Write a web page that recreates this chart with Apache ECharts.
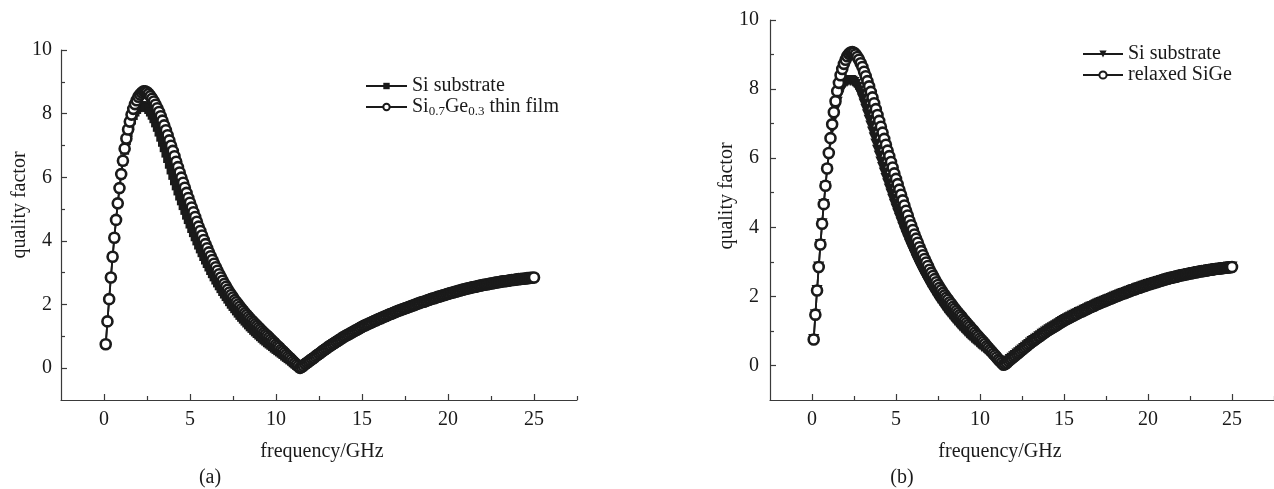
<!DOCTYPE html>
<html>
<head>
<meta charset="utf-8">
<script src="https://cdn.jsdelivr.net/npm/echarts@6/dist/echarts.min.js"></script>
<style>
  html, body { margin: 0; background: #fff; }
  #chart { width: 1274px; height: 489px; }
</style>
</head>
<body>
<div id="chart"></div>
<script>
// frequency grid, GHz (0.1 ... 25.0, step 0.1)
const freqStart = 0.1, freqStep = 0.1, freqCount = 250;

// quality factor, 0.1 .. 12.0 GHz (rows of 10 points)
const qSiSubstrateHead = [
  0.75,1.47,2.17,2.85,3.50,4.10,4.66,5.18,5.66,6.10,
  6.50,6.85,7.15,7.41,7.62,7.80,7.94,8.05,8.13,8.19,
  8.23,8.25,8.25,8.23,8.19,8.13,8.05,7.95,7.84,7.71,
  7.57,7.42,7.26,7.10,6.93,6.76,6.59,6.41,6.23,6.06,
  5.89,5.73,5.57,5.41,5.26,5.11,4.96,4.81,4.67,4.53,
  4.39,4.26,4.13,4.00,3.87,3.75,3.63,3.51,3.40,3.29,
  3.18,3.07,2.97,2.87,2.77,2.68,2.59,2.50,2.41,2.33,
  2.25,2.17,2.09,2.01,1.94,1.87,1.80,1.73,1.66,1.60,
  1.54,1.48,1.42,1.36,1.30,1.25,1.19,1.14,1.09,1.04,
  0.99,0.94,0.89,0.85,0.80,0.76,0.72,0.68,0.63,0.59,
  0.55,0.51,0.47,0.43,0.38,0.34,0.30,0.26,0.22,0.17,
  0.13,0.09,0.05,0.01,0.04,0.08,0.13,0.17,0.21,0.25
];
const qSiGeFilmHead = [
  0.75,1.47,2.17,2.85,3.50,4.10,4.66,5.18,5.66,6.10,
  6.52,6.90,7.22,7.50,7.75,7.97,8.15,8.30,8.42,8.53,
  8.60,8.66,8.70,8.70,8.67,8.62,8.55,8.47,8.38,8.28,
  8.17,8.05,7.92,7.78,7.63,7.48,7.32,7.16,6.99,6.83,
  6.66,6.49,6.32,6.15,5.99,5.83,5.67,5.51,5.35,5.20,
  5.05,4.90,4.75,4.60,4.45,4.31,4.17,4.03,3.90,3.77,
  3.64,3.52,3.40,3.28,3.17,3.06,2.95,2.85,2.75,2.65,
  2.56,2.47,2.38,2.30,2.22,2.14,2.07,2.00,1.93,1.86,
  1.80,1.73,1.67,1.61,1.55,1.49,1.44,1.38,1.33,1.27,
  1.22,1.16,1.11,1.06,1.01,0.96,0.90,0.85,0.80,0.74,
  0.69,0.64,0.58,0.53,0.48,0.42,0.37,0.32,0.27,0.21,
  0.16,0.11,0.06,0.01,0.04,0.08,0.13,0.17,0.21,0.25
];
const qRelaxedSiGeHead = [
  0.75,1.47,2.17,2.85,3.50,4.10,4.67,5.20,5.70,6.15,
  6.58,6.98,7.33,7.65,7.94,8.18,8.40,8.58,8.73,8.85,
  8.95,9.02,9.06,9.07,9.05,9.00,8.93,8.85,8.75,8.64,
  8.50,8.37,8.23,8.08,7.92,7.76,7.59,7.42,7.25,7.08,
  6.91,6.74,6.56,6.39,6.22,6.06,5.89,5.73,5.56,5.40,
  5.25,5.09,4.94,4.78,4.63,4.48,4.34,4.19,4.06,3.92,
  3.79,3.67,3.55,3.42,3.31,3.19,3.08,2.98,2.88,2.77,
  2.68,2.59,2.50,2.41,2.33,2.25,2.18,2.10,2.03,1.96,
  1.90,1.83,1.77,1.70,1.64,1.58,1.52,1.46,1.41,1.34,
  1.29,1.23,1.17,1.12,1.06,1.01,0.95,0.89,0.84,0.78,
  0.73,0.68,0.62,0.56,0.51,0.45,0.40,0.34,0.29,0.23,
  0.17,0.12,0.07,0.02,0.04,0.08,0.13,0.17,0.21,0.25
];
// 12.1 .. 25.0 GHz: all curves lie on top of each other here
const qTail = [
  0.29,0.33,0.37,0.41,0.45,0.49,0.53,0.57,0.61,0.65,
  0.69,0.72,0.76,0.79,0.83,0.86,0.90,0.93,0.97,1.00,
  1.03,1.06,1.09,1.12,1.15,1.18,1.21,1.24,1.27,1.30,
  1.33,1.35,1.38,1.40,1.43,1.45,1.48,1.50,1.53,1.55,
  1.57,1.60,1.62,1.64,1.67,1.69,1.71,1.73,1.76,1.78,
  1.80,1.82,1.84,1.86,1.88,1.90,1.92,1.94,1.96,1.98,
  2.00,2.02,2.04,2.06,2.08,2.09,2.11,2.13,2.15,2.17,
  2.19,2.20,2.22,2.24,2.25,2.27,2.29,2.30,2.32,2.34,
  2.35,2.37,2.38,2.40,2.41,2.43,2.44,2.46,2.47,2.49,
  2.50,2.51,2.53,2.54,2.55,2.56,2.57,2.59,2.60,2.61,
  2.62,2.63,2.64,2.65,2.66,2.67,2.68,2.69,2.70,2.71,
  2.72,2.73,2.73,2.74,2.75,2.76,2.77,2.77,2.78,2.79,
  2.80,2.80,2.81,2.81,2.82,2.83,2.83,2.84,2.84,2.85
];

const qSiSubstrate = qSiSubstrateHead.concat(qTail);
const qSiGeFilm = qSiGeFilmHead.concat(qTail);
const qRelaxedSiGe = qRelaxedSiGeHead.concat(qTail);

const xMajorTicks = [0, 5, 10, 15, 20, 25];
const xMinorTicks = [2.5, 7.5, 12.5, 17.5, 22.5, 27.5];
const yMajorTicks = [0, 2, 4, 6, 8, 10];
const yMinorTicks = [1, 3, 5, 7, 9];

const SI_SUB = 'Si substrate';
const SI_SUB_B = 'Si substrate (b)';
const SIGE_FILM = 'Si0.7Ge0.3 thin film';
const RELAXED = 'relaxed SiGe';

const FONT = 'Liberation Serif';
const INK = '#1a1a1a';
const AXIS = '#3a3a3a';

const freqGHz = [];
for (let i = 0; i < freqCount; i++) freqGHz.push(+(freqStart + i * freqStep).toFixed(1));
const pairs = q => freqGHz.map((f, i) => [f, q[i]]);

const chart = echarts.init(document.getElementById('chart'));

function xAxes(gridIndex) {
  return [{
    gridIndex, type: 'value', min: -2.5, max: 27.5, position: 'bottom',
    splitLine: { show: false },
    axisLine: { onZero: false, lineStyle: { color: AXIS, width: 1.2 } },
    axisTick: { inside: true, length: 6, customValues: xMajorTicks, lineStyle: { color: AXIS, width: 1.2 } },
    axisLabel: { customValues: xMajorTicks, margin: 10, fontFamily: FONT, fontSize: 20, color: INK }
  }, {
    gridIndex, type: 'value', min: -2.5, max: 27.5, position: 'bottom', offset: 0,
    splitLine: { show: false },
    axisLine: { show: false, onZero: false },
    axisTick: { inside: true, length: 4, customValues: xMinorTicks, lineStyle: { color: AXIS, width: 1.2 } },
    axisLabel: { show: false }
  }];
}
function yAxes(gridIndex, margin) {
  return [{
    gridIndex, type: 'value', min: -1, max: 10, position: 'left',
    splitLine: { show: false },
    axisLine: { onZero: false, lineStyle: { color: AXIS, width: 1.2 } },
    axisTick: { inside: true, length: 6, customValues: yMajorTicks, lineStyle: { color: AXIS, width: 1.2 } },
    axisLabel: { customValues: yMajorTicks, margin, fontFamily: FONT, fontSize: 20, color: INK }
  }, {
    gridIndex, type: 'value', min: -1, max: 10, position: 'left', offset: 0,
    splitLine: { show: false },
    axisLine: { show: false, onZero: false },
    axisTick: { inside: true, length: 4, customValues: yMinorTicks, lineStyle: { color: AXIS, width: 1.2 } },
    axisLabel: { show: false }
  }];
}

function lineSeries(name, data, xi, yi, symbol, size, filled, rotate) {
  return {
    name, type: 'line', data, xAxisIndex: xi, yAxisIndex: yi,
    symbol, symbolSize: size, symbolRotate: rotate || 0, showAllSymbol: true,
    lineStyle: { color: INK, width: 1.8 },
    itemStyle: filled ? { color: INK, borderColor: INK, borderWidth: 0 }
                      : { color: '#fff', borderColor: INK, borderWidth: 2.6 },
    emphasis: { disabled: true }, silent: true
  };
}

const legendText = {
  fontFamily: FONT, fontSize: 20, color: INK, lineHeight: 20,
  rich: {
    t: { fontFamily: FONT, fontSize: 20, color: INK, lineHeight: 20 },
    sub: { fontFamily: FONT, fontSize: 13, color: INK, padding: [10, 0, 0, 0] }
  }
};

chart.setOption({
  animation: false,
  backgroundColor: '#fff',
  grid: [
    { left: 61, top: 50, width: 516, height: 350 },
    { left: 770, top: 20, width: 512, height: 380 }
  ],
  xAxis: [...xAxes(0), ...xAxes(1)],
  yAxis: [...yAxes(0, 9), ...yAxes(1, 11)],
  legend: [{
    data: [SI_SUB, SIGE_FILM], orient: 'vertical', left: 360, top: 71,
    itemWidth: 41, itemHeight: 8, itemGap: 1, selectedMode: false,
    textStyle: legendText,
    formatter: n => n === SIGE_FILM ? '{t|Si}{sub|0.7}{t|Ge}{sub|0.3}{t| thin film}' : '{t|' + n + '}'
  }, {
    data: [SI_SUB_B, RELAXED], orient: 'vertical', left: 1077, top: 39,
    itemWidth: 40, itemHeight: 9, itemGap: 1, selectedMode: false,
    textStyle: legendText,
    formatter: n => '{t|' + n.replace(' (b)', '') + '}'
  }],
  series: [
    lineSeries(SI_SUB, pairs(qSiSubstrate), 0, 0, 'rect', 9, true),
    lineSeries(SIGE_FILM, pairs(qSiGeFilm), 0, 0, 'circle', 10, false),
    lineSeries(SI_SUB_B, pairs(qSiSubstrate), 2, 2, 'triangle', 11, true, 180),
    lineSeries(RELAXED, pairs(qRelaxedSiGe), 2, 2, 'circle', 10, false)
  ],
  graphic: [
    { type: 'text', x: 20, y: 205, rotation: Math.PI / 2,
      style: { text: 'quality factor', font: '20px "Liberation Serif"', fill: INK, textAlign: 'center', textVerticalAlign: 'middle' } },
    { type: 'text', x: 727, y: 196, rotation: Math.PI / 2,
      style: { text: 'quality factor', font: '20px "Liberation Serif"', fill: INK, textAlign: 'center', textVerticalAlign: 'middle' } },
    { type: 'text', x: 322, y: 452,
      style: { text: 'frequency/GHz', font: '20px "Liberation Serif"', fill: INK, textAlign: 'center', textVerticalAlign: 'middle' } },
    { type: 'text', x: 1000, y: 452,
      style: { text: 'frequency/GHz', font: '20px "Liberation Serif"', fill: INK, textAlign: 'center', textVerticalAlign: 'middle' } },
    { type: 'text', x: 210, y: 478,
      style: { text: '(a)', font: '20px "Liberation Serif"', fill: INK, textAlign: 'center', textVerticalAlign: 'middle' } },
    { type: 'text', x: 902, y: 478,
      style: { text: '(b)', font: '20px "Liberation Serif"', fill: INK, textAlign: 'center', textVerticalAlign: 'middle' } }
  ]
});
</script>
</body>
</html>
